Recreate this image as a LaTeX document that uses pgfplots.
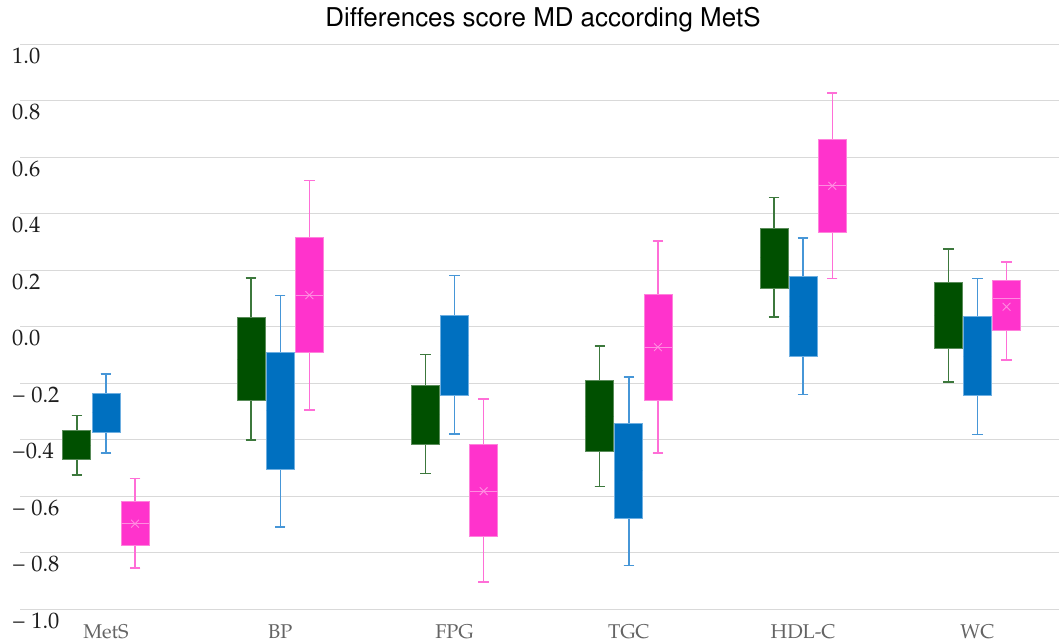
\documentclass[border=0pt]{standalone}
\usepackage[T1]{fontenc}
\usepackage{pgfplots}
\pgfplotsset{compat=1.18}
\usepgfplotslibrary{statistics}
\definecolor{cG}{RGB}{0,80,0}
\definecolor{cGe}{RGB}{90,140,90}
\definecolor{cGw}{RGB}{60,120,60}
\definecolor{cB}{RGB}{0,112,192}
\definecolor{cBe}{RGB}{110,175,225}
\definecolor{cBw}{RGB}{70,150,215}
\definecolor{cP}{RGB}{255,51,204}
\definecolor{cPe}{RGB}{255,130,220}
\definecolor{cPw}{RGB}{255,110,215}
\definecolor{cPm}{RGB}{255,140,225}
\definecolor{gridc}{RGB}{217,217,217}
\definecolor{ylab}{RGB}{30,30,30}
\definecolor{xlab}{RGB}{100,100,100}
\newcommand\bxp[7]{\addplot[#7, boxplot prepared={draw direction=y, draw position=#1, lower whisker=#2, lower quartile=#3, median=#4, upper quartile=#5, upper whisker=#6}] coordinates {};}
\pgfplotsset{
  gbox/.style={fill=cG, draw=cGe, line width=0.8bp,
    boxplot/every whisker/.style={draw=cGw, line width=1.4bp},
    boxplot/every median/.style={draw opacity=0}},
  bbox/.style={fill=cB, draw=cBe, line width=0.8bp,
    boxplot/every whisker/.style={draw=cBw, line width=1.4bp},
    boxplot/every median/.style={draw opacity=0}},
  pbox/.style={fill=cP, draw=cPe, line width=0.8bp,
    boxplot/every whisker/.style={draw=cPw, line width=1.4bp},
    boxplot/every median/.style={draw=cPm, line width=1bp}},
}
\begin{document}
\begin{tikzpicture}
\begin{axis}[
  at={(20bp,34.7bp)}, anchor=south west,
  scale only axis, width=1039bp, height=565bp,
  xmin=-0.493, xmax=5.468, ymin=-1, ymax=1,
  axis line style={draw=none},
  ymajorgrids, grid style={draw=gridc, line width=1bp},
  tick style={draw=none},
  xtick={0,1,2,3,4,5},
  xticklabels={MetS,BP,FPG,TGC,HDL-C,WC},
  ytick={-1,-0.8,-0.6,-0.4,-0.2,0,0.2,0.4,0.6,0.8,1},
  yticklabels={\textminus\ 1.0,\textminus\ 0.8,\textminus\ 0.6,\textminus0.4,\textminus\ 0.2,0.0,0.2,0.4,0.6,0.8,1.0},
  yticklabel style={anchor=north west, inner sep=0pt, xshift=-8bp, yshift=-3bp,
    font=\fontfamily{ppl}\fontsize{22.5}{26}\selectfont, text=ylab},
  xticklabel style={anchor=north, inner sep=0pt, yshift=-15bp,
    font=\fontfamily{ppl}\fontsize{20}{24}\selectfont, text=xlab},
  title={Differences score MD according MetS},
  title style={font=\fontfamily{phv}\fontsize{26}{30}\selectfont, anchor=base, at={(0.5,1)}, yshift=12bp, xshift=3.5bp},
  boxplot/draw direction=y,
  boxplot/box extend=0.161, boxplot/whisker extend=0.06,
]
% MetS
\bxp{-0.167}{-0.524}{-0.471}{-0.419}{-0.367}{-0.315}{gbox}
\bxp{0}{-0.447}{-0.374}{-0.305}{-0.235}{-0.167}{bbox}
\bxp{0.167}{-0.854}{-0.773}{-0.697}{-0.617}{-0.538}{pbox}
% BP
\bxp{0.833}{-0.401}{-0.261}{-0.114}{0.033}{0.173}{gbox}
\bxp{1}{-0.708}{-0.504}{-0.298}{-0.091}{0.111}{bbox}
\bxp{1.167}{-0.294}{-0.092}{0.112}{0.315}{0.518}{pbox}
% FPG
\bxp{1.833}{-0.519}{-0.418}{-0.312}{-0.206}{-0.099}{gbox}
\bxp{2}{-0.379}{-0.242}{-0.101}{0.040}{0.181}{bbox}
\bxp{2.167}{-0.904}{-0.743}{-0.582}{-0.418}{-0.256}{pbox}
% TGC
\bxp{2.833}{-0.566}{-0.441}{-0.316}{-0.190}{-0.068}{gbox}
\bxp{3}{-0.846}{-0.678}{-0.510}{-0.343}{-0.178}{bbox}
\bxp{3.167}{-0.447}{-0.260}{-0.072}{0.116}{0.303}{pbox}
% HDL-C
\bxp{3.833}{0.035}{0.137}{0.244}{0.350}{0.458}{gbox}
\bxp{4}{-0.240}{-0.104}{0.037}{0.178}{0.315}{bbox}
\bxp{4.167}{0.170}{0.334}{0.499}{0.663}{0.828}{pbox}
% WC
\bxp{4.833}{-0.195}{-0.077}{0.040}{0.158}{0.276}{gbox}
\bxp{5}{-0.382}{-0.244}{-0.104}{0.037}{0.172}{bbox}
\bxp{5.167}{-0.117}{-0.011}{0.101}{0.165}{0.230}{pbox}
% means
\addplot[only marks, mark=x, mark size=5.5bp, draw=cPm, line width=0.9bp]
  coordinates {(0.167,-0.697) (1.167,0.112) (2.167,-0.582) (3.167,-0.072) (4.167,0.499) (5.167,0.071)};
\end{axis}
\pgfresetboundingbox
\path[use as bounding box] (0,0) rectangle (1059bp,644bp);
\end{tikzpicture}
\end{document}
